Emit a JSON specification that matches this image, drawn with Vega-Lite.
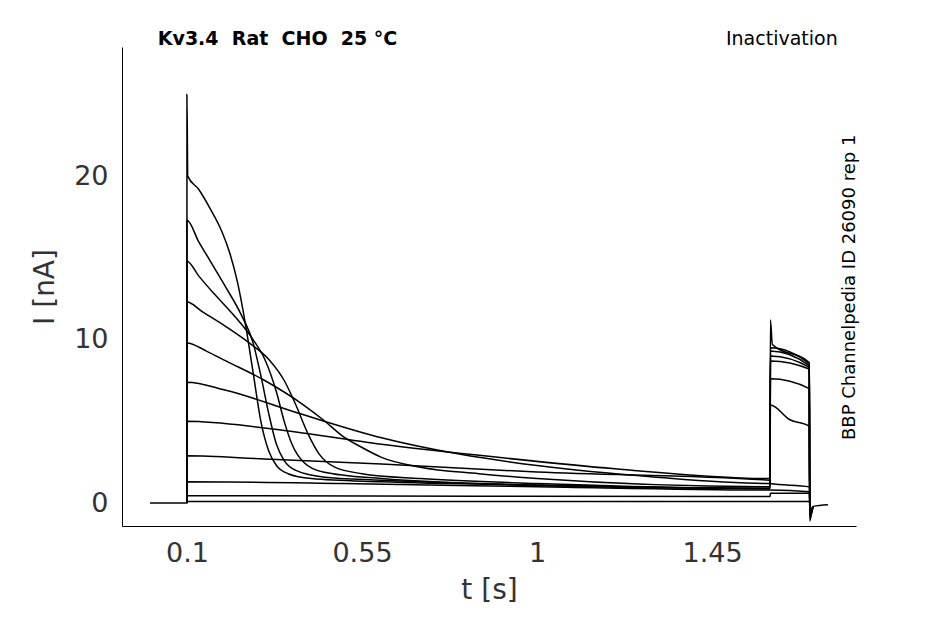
{
  "$schema": "https://vega.github.io/schema/vega-lite/v6.json",
  "width": 734,
  "height": 479,
  "autosize": "none",
  "padding": {"left": 122, "top": 47, "right": 89, "bottom": 98},
  "config": {
    "view": {"stroke": null},
    "font": "DejaVu Sans",
    "axis": {"grid": false, "domainColor": "#000", "tickColor": "#000", "labelColor": "#333", "titleColor": "#333", "labelFontSize": 27, "titleFontSize": 28, "titleFontWeight": "normal", "tickSize": 0, "labelPadding": 14},
    "axisX": {"titlePadding": 10},
    "axisY": {"titlePadding": 14}
  },
  "layer": [
    {
      "data": {"values": [
        {"k":1,"t":0.005,"i":0},{"k":1,"t":0.0999,"i":0},{"k":1,"t":0.1,"i":25},{"k":1,"t":0.102,"i":20},{"k":1,"t":0.13,"i":19.2},{"k":1,"t":0.16,"i":18},{"k":1,"t":0.19,"i":16.6},{"k":1,"t":0.21,"i":15.3},{"k":1,"t":0.23,"i":13.5},{"k":1,"t":0.25,"i":11},{"k":1,"t":0.27,"i":8},{"k":1,"t":0.29,"i":5},{"k":1,"t":0.31,"i":3.2},{"k":1,"t":0.33,"i":2.3},{"k":1,"t":0.36,"i":1.8},{"k":1,"t":0.42,"i":1.5},{"k":1,"t":0.6,"i":1.3},{"k":1,"t":1.0,"i":1.1},{"k":1,"t":1.599,"i":0.9},{"k":1,"t":1.6,"i":11.2},{"k":1,"t":1.605,"i":9.7},{"k":1,"t":1.7,"i":8.6},{"k":1,"t":1.701,"i":-1.1},{"k":1,"t":1.71,"i":-0.2},{"k":1,"t":1.748,"i":-0.1},
        {"k":2,"t":0.0999,"i":0},{"k":2,"t":0.1,"i":17.3},{"k":2,"t":0.13,"i":16},{"k":2,"t":0.16,"i":14.8},{"k":2,"t":0.2,"i":13.2},{"k":2,"t":0.24,"i":11.5},{"k":2,"t":0.27,"i":9.8},{"k":2,"t":0.29,"i":7.8},{"k":2,"t":0.31,"i":5.5},{"k":2,"t":0.33,"i":3.6},{"k":2,"t":0.35,"i":2.6},{"k":2,"t":0.38,"i":2},{"k":2,"t":0.45,"i":1.6},{"k":2,"t":0.6,"i":1.4},{"k":2,"t":1.0,"i":1.1},{"k":2,"t":1.599,"i":0.9},{"k":2,"t":1.6,"i":9.5},{"k":2,"t":1.7,"i":8.5},{"k":2,"t":1.701,"i":-0.9},{"k":2,"t":1.71,"i":-0.2},
        {"k":3,"t":0.0999,"i":0},{"k":3,"t":0.1,"i":14.8},{"k":3,"t":0.13,"i":13.9},{"k":3,"t":0.17,"i":12.8},{"k":3,"t":0.22,"i":11.5},{"k":3,"t":0.27,"i":10},{"k":3,"t":0.3,"i":8.8},{"k":3,"t":0.33,"i":6.8},{"k":3,"t":0.35,"i":5},{"k":3,"t":0.37,"i":3.6},{"k":3,"t":0.4,"i":2.5},{"k":3,"t":0.45,"i":1.9},{"k":3,"t":0.6,"i":1.5},{"k":3,"t":1.0,"i":1.1},{"k":3,"t":1.599,"i":0.9},{"k":3,"t":1.6,"i":9.3},{"k":3,"t":1.7,"i":8.4},{"k":3,"t":1.701,"i":-0.8},{"k":3,"t":1.71,"i":-0.2},
        {"k":4,"t":0.0999,"i":0},{"k":4,"t":0.1,"i":12.3},{"k":4,"t":0.14,"i":11.7},{"k":4,"t":0.2,"i":10.8},{"k":4,"t":0.26,"i":9.8},{"k":4,"t":0.31,"i":8.8},{"k":4,"t":0.35,"i":7.5},{"k":4,"t":0.38,"i":6},{"k":4,"t":0.41,"i":4.3},{"k":4,"t":0.44,"i":3},{"k":4,"t":0.48,"i":2.2},{"k":4,"t":0.55,"i":1.8},{"k":4,"t":0.7,"i":1.5},{"k":4,"t":1.0,"i":1.2},{"k":4,"t":1.599,"i":0.9},{"k":4,"t":1.6,"i":9},{"k":4,"t":1.7,"i":8.3},{"k":4,"t":1.701,"i":-0.7},{"k":4,"t":1.71,"i":-0.2},
        {"k":5,"t":0.0999,"i":0},{"k":5,"t":0.1,"i":9.8},{"k":5,"t":0.15,"i":9.3},{"k":5,"t":0.2,"i":8.7},{"k":5,"t":0.3,"i":7.5},{"k":5,"t":0.4,"i":6},{"k":5,"t":0.45,"i":5.1},{"k":5,"t":0.5,"i":4.1},{"k":5,"t":0.55,"i":3.4},{"k":5,"t":0.6,"i":2.8},{"k":5,"t":0.7,"i":2.2},{"k":5,"t":0.85,"i":1.8},{"k":5,"t":1.0,"i":1.5},{"k":5,"t":1.599,"i":1.0},{"k":5,"t":1.6,"i":8.7},{"k":5,"t":1.7,"i":8.2},{"k":5,"t":1.701,"i":-0.6},{"k":5,"t":1.71,"i":-0.2},
        {"k":6,"t":0.0999,"i":0},{"k":6,"t":0.1,"i":7.4},{"k":6,"t":0.2,"i":6.9},{"k":6,"t":0.4,"i":5.4},{"k":6,"t":0.6,"i":4.0},{"k":6,"t":0.8,"i":3.0},{"k":6,"t":1.0,"i":2.3},{"k":6,"t":1.3,"i":1.6},{"k":6,"t":1.599,"i":1.2},{"k":6,"t":1.6,"i":7.6},{"k":6,"t":1.7,"i":7.0},{"k":6,"t":1.701,"i":-0.5},{"k":6,"t":1.71,"i":-0.2},
        {"k":7,"t":0.0999,"i":0},{"k":7,"t":0.1,"i":5.0},{"k":7,"t":0.3,"i":4.6},{"k":7,"t":0.6,"i":3.6},{"k":7,"t":0.9,"i":2.8},{"k":7,"t":1.2,"i":2.1},{"k":7,"t":1.599,"i":1.5},{"k":7,"t":1.6,"i":6.0},{"k":7,"t":1.65,"i":5.1},{"k":7,"t":1.7,"i":4.7},{"k":7,"t":1.701,"i":-0.4},{"k":7,"t":1.71,"i":-0.2},
        {"k":8,"t":0.0999,"i":0},{"k":8,"t":0.1,"i":2.9},{"k":8,"t":0.3,"i":2.7},{"k":8,"t":0.6,"i":2.4},{"k":8,"t":1.0,"i":1.9},{"k":8,"t":1.599,"i":1.4},{"k":8,"t":1.6,"i":1.2},{"k":8,"t":1.7,"i":1.0},{"k":8,"t":1.701,"i":-0.2},
        {"k":9,"t":0.0999,"i":0},{"k":9,"t":0.1,"i":1.3},{"k":9,"t":0.5,"i":1.2},{"k":9,"t":1.0,"i":1.0},{"k":9,"t":1.599,"i":0.8},{"k":9,"t":1.6,"i":0.8},{"k":9,"t":1.7,"i":0.7},{"k":9,"t":1.701,"i":-0.1},
        {"k":10,"t":0.0999,"i":0},{"k":10,"t":0.1,"i":0.45},{"k":10,"t":1.599,"i":0.4},{"k":10,"t":1.6,"i":0.6},{"k":10,"t":1.7,"i":0.6},{"k":10,"t":1.701,"i":0},
        {"k":11,"t":0.0999,"i":0},{"k":11,"t":0.1,"i":0.1},{"k":11,"t":1.599,"i":0.1},{"k":11,"t":1.7,"i":0.1},{"k":11,"t":1.701,"i":0}
      ]},
      "mark": {"type": "line", "color": "#000", "strokeWidth": 1.5, "clip": true, "interpolate": "monotone"},
      "encoding": {
        "x": {"field": "t", "type": "quantitative", "title": "t [s]", "scale": {"domain": [-0.067, 1.82], "nice": false}, "axis": {"values": [0.1, 0.55, 1, 1.45], "labelExpr": "datum.value"}},
        "y": {"field": "i", "type": "quantitative", "title": "I [nA]", "scale": {"domain": [-1.4, 27.9], "nice": false, "zero": false}, "axis": {"values": [0, 10, 20]}},
        "detail": {"field": "k"},
        "order": {"field": "t"}
      }
    },
    {
      "data": {"values": [{"t": 0.025, "i": 28.4, "s": "Kv3.4\u00a0\u00a0Rat\u00a0\u00a0CHO\u00a0\u00a025 °C"}]},
      "mark": {"type": "text", "fontSize": 19, "fontWeight": "bold", "color": "#000", "align": "left", "baseline": "middle"},
      "encoding": {
        "x": {"field": "t", "type": "quantitative"},
        "y": {"field": "i", "type": "quantitative"},
        "text": {"field": "s"}
      }
    },
    {
      "data": {"values": [{"t": 1.773, "i": 28.4, "s": "Inactivation"}]},
      "mark": {"type": "text", "fontSize": 19, "color": "#000", "align": "right", "baseline": "middle"},
      "encoding": {
        "x": {"field": "t", "type": "quantitative"},
        "y": {"field": "i", "type": "quantitative"},
        "text": {"field": "s"}
      }
    },
    {
      "data": {"values": [{"t": 1.805, "i": 13.2, "s": "BBP Channelpedia ID 26090 rep 1"}]},
      "mark": {"type": "text", "fontSize": 18, "color": "#000", "angle": 270, "align": "center", "baseline": "middle"},
      "encoding": {
        "x": {"field": "t", "type": "quantitative"},
        "y": {"field": "i", "type": "quantitative"},
        "text": {"field": "s"}
      }
    }
  ]
}
